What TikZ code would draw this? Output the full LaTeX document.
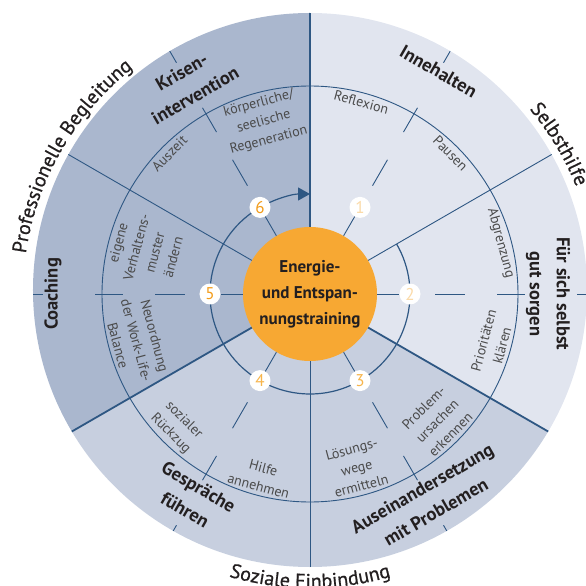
\documentclass[tikz,border=0pt]{standalone}
\usepackage{fontspec}
\setmainfont{PT Sans}
\newfontfamily\arcfont{PT Sans}[FakeBold=0.7]
\usetikzlibrary{arrows.meta,decorations.text}

\definecolor{darksector}{HTML}{AAB7CE}
\definecolor{lightsector}{HTML}{E1E5EF}
\definecolor{midsector}{HTML}{C7CFDF}
\definecolor{lineblue}{HTML}{2E5783}
\definecolor{coreorange}{HTML}{F7A833}
\definecolor{labeltext}{HTML}{231F20}
\definecolor{softtext}{HTML}{4A4A4A}
\definecolor{numfull}{HTML}{F39C1A}
\definecolor{nummid}{HTML}{F7B54C}
\definecolor{numpale}{HTML}{FBDAA8}

\begin{document}
\begin{tikzpicture}[x=1pt, y=1pt,
    boundary/.style={lineblue, line width=1.8pt},
    divider/.style={lineblue, line width=0.9pt},
    ring/.style={lineblue, line width=1.2pt},
    core/.style={circle, fill=coreorange, minimum size=134pt, inner sep=0pt, align=center,
        text=labeltext, font=\fontsize{17}{26}\selectfont\bfseries},
    num/.style={circle, fill=white, minimum size=21pt, inner sep=0pt, font=\fontsize{17}{17}\selectfont},
    bandlabel/.style={align=center, inner sep=0pt, text=labeltext, font=\fontsize{18.5}{27}\selectfont\bfseries},
    softlabel/.style={align=center, inner sep=0pt, text=softtext, font=\fontsize{14}{19}\selectfont},
    arclabel/.style={decorate, decoration={text along path, text align=center, text color=labeltext}}
]
    \useasboundingbox (-310,-292) rectangle (276,294);
    \clip (-310,-292) rectangle (276,294);

    \begin{scope}
        \clip (0,4) circle (277pt);
        \fill[lightsector] (0,0) -- (-30:330pt) arc[start angle=-30, end angle=90, radius=330pt] -- cycle;
        \fill[darksector] (0,0) -- (90:330pt) arc[start angle=90, end angle=210, radius=330pt] -- cycle;
        \fill[midsector] (0,0) -- (210:330pt) arc[start angle=210, end angle=330, radius=330pt] -- cycle;

        \draw[divider] (0,0) circle (208pt);
        \foreach \a in {30,150,270}
            \draw[divider] (\a:60pt) -- (\a:300pt);
        \foreach \a in {90,210,330}
            \draw[boundary] (\a:60pt) -- (\a:300pt);
        \foreach \a in {0,60,...,300} {
            \draw[divider] (\a:125pt) -- (\a:155pt);
            \draw[divider] (\a:187pt) -- (\a:215pt);
            \draw[divider] (\a:267pt) -- (\a:300pt);
        }
    \end{scope}

    \draw[ring, -{Triangle[length=12pt, width=13pt]}] (30:100pt) arc[start angle=30, end angle=-270, radius=100pt];

    \node[core] (core) at (0,0) {Energie-\\und Entspan-\\nungstraining};
    \foreach \n/\a/\c in {1/60/numpale, 2/0/numpale, 3/-60/nummid, 4/-120/nummid, 5/180/numfull, 6/120/numfull}
        \node[num, text=\c] (n\n) at (\a:100pt) {\n};
    \foreach \n in {1,...,6}
        \draw[divider] (core) -- (n\n);

    \node[softlabel, anchor=north, rotate=-15] (reflexion) at (75:204pt) {Reflexion};
    \node[softlabel, anchor=north, rotate=-45] (pausen) at (45:204pt) {Pausen};
    \node[softlabel, anchor=north, rotate=-75] (abgrenzung) at (15:204pt) {Abgrenzung};
    \node[softlabel, anchor=south, rotate=75] (prioritaeten) at (-15:204pt) {Prioritäten\\klären};
    \node[softlabel, anchor=south, rotate=45] (ursachen) at (-45:204pt) {Problem-\\ursachen\\erkennen};
    \node[softlabel, anchor=south, rotate=15] (loesungen) at (-75:204pt) {Lösungs-\\wege\\ermitteln};
    \node[softlabel, anchor=south, rotate=-15] (hilfe) at (-105:204pt) {Hilfe\\annehmen};
    \node[softlabel, anchor=south, rotate=-45] (rueckzug) at (-135:204pt) {sozialer\\Rückzug};
    \node[softlabel, anchor=south, rotate=-75] (balance) at (-165:204pt) {Neuordnung\\der Work-Life-\\Balance};
    \node[softlabel, anchor=north, rotate=75] (verhalten) at (165:204pt) {eigene\\Verhaltens-\\muster\\ändern};
    \node[softlabel, anchor=north, rotate=45] (auszeit) at (135:204pt) {Auszeit};
    \node[softlabel, anchor=north, rotate=15] (regeneration) at (105:204pt) {körperliche/\\seelische\\Regeneration};

    \node[bandlabel, rotate=30] (krisen) at (120:243pt) {Krisen-\\intervention};
    \node[bandlabel, rotate=-30] (innehalten) at (60:257pt) {Innehalten};
    \node[bandlabel, rotate=-90] (sorgen) at (0:238pt) {Für sich selbst\\gut sorgen};
    \node[bandlabel, rotate=30] (probleme) at (-60:238pt) {Auseinandersetzung\\mit Problemen};
    \node[bandlabel, rotate=-30] (gespraeche) at (-120:236pt) {Gespräche\\führen};
    \node[bandlabel, rotate=90] (coaching) at (180:257pt) {Coaching};

    \path[arclabel, decoration={text={|\fontsize{20}{22}\selectfont\arcfont|Professionelle Begleitung}}]
        (178:287pt) arc[start angle=178, end angle=122, radius=287pt];
    \path[arclabel, decoration={text={|\fontsize{20}{22}\selectfont\arcfont|Selbsthilfe}}]
        (56:287pt) arc[start angle=56, end angle=6, radius=287pt];
    \path[arclabel, decoration={text={|\fontsize{20}{22}\selectfont\arcfont|Soziale Einbindung}}]
        (-118:294pt) arc[start angle=-118, end angle=-62, radius=294pt];
\end{tikzpicture}
\end{document}
